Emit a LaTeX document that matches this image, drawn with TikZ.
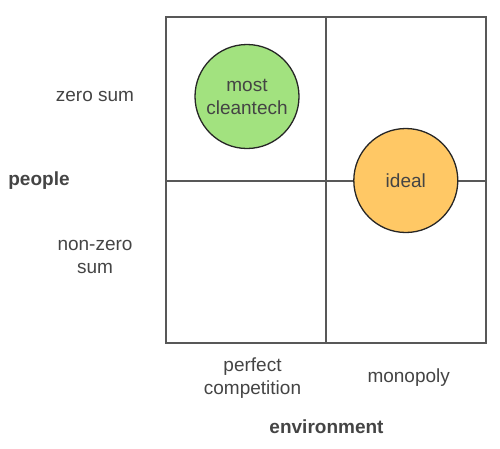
\documentclass[tikz,border=0pt]{standalone}
\usepackage{fontspec}
\setmainfont{Liberation Sans}
\definecolor{gridgray}{HTML}{585858}
\definecolor{textgray}{HTML}{444444}
\definecolor{cleangreen}{HTML}{A2E27F}
\definecolor{idealorange}{HTML}{FFC865}
\begin{document}
\begin{tikzpicture}[x=1pt, y=-1pt,
    quadtext/.style = {text=textgray, align=center, font=\fontsize{19}{23}\selectfont},
    axistext/.style = {quadtext, font=\fontsize{19}{23}\selectfont\bfseries},
    blob/.style = {circle, draw=black!85, line width=1.3pt, minimum size=104pt, inner sep=0pt, quadtext}]
    \useasboundingbox (0,0) rectangle (500,448);
    % the four quadrants
    \draw [gridgray, line width=2pt] (166,17) rectangle (486,343);
    \draw [gridgray, line width=2pt] (326,17) -- (326,343);
    \draw [gridgray, line width=2pt] (166,180.5) -- (486,180.5);
    % circles
    \node [blob, fill=cleangreen] (cleantech) at (247,96.5) {most\\cleantech};
    \node [blob, fill=idealorange] (ideal) at (405.8,180.5) {ideal};
    % row labels
    \node [quadtext] (zerosum) at (95,96.5) {zero sum};
    \node [quadtext] (nonzerosum) at (95,256.5) {non-zero\\sum};
    \node [axistext] (people) at (39,180.5) {people};
    % column labels
    \node [quadtext] (perfect) at (252.5,378) {perfect\\competition};
    \node [quadtext] (monopoly) at (408.7,378) {monopoly};
    \node [axistext] (environment) at (326.5,427) {environment};
\end{tikzpicture}
\end{document}
